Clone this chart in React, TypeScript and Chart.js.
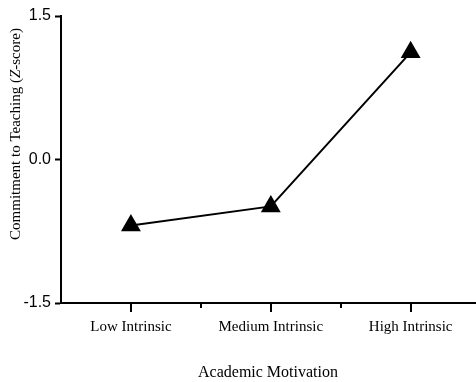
import React, { useEffect, useRef } from 'react';
import { Chart, registerables } from 'chart.js';

Chart.register(...registerables);

const categories = ['Low Intrinsic', 'Medium Intrinsic', 'High Intrinsic'];
const commitment = [-0.69, -0.49, 1.12];
const yMin = -1.5;
const yMax = 1.5;
const yStep = 1.5;
const xMinorTicks = [0.5, 1.5];
const xTitle = 'Academic Motivation';
const yTitleParts = [
  { text: 'Commitment to Teaching (', italic: false },
  { text: 'Z', italic: true },
  { text: '-score)', italic: false },
];

const SERIF = '"Liberation Serif", "Times New Roman", serif';
const SANS = '"Liberation Sans", Arial, sans-serif';

const overlayPlugin = {
  id: 'overlay',
  afterDraw(chart: any) {
    const ctx = chart.ctx;
    const xs = chart.scales.x;
    const bottom = chart.chartArea.bottom;
    ctx.save();
    ctx.strokeStyle = '#000';
    ctx.lineWidth = 2;
    categories.forEach((_, i) => {
      const px = Math.round(xs.getPixelForValue(i));
      ctx.beginPath();
      ctx.moveTo(px, bottom);
      ctx.lineTo(px, bottom + 9);
      ctx.stroke();
    });
    xMinorTicks.forEach((v) => {
      const px = Math.round(xs.getPixelForValue(v));
      ctx.beginPath();
      ctx.moveTo(px, bottom);
      ctx.lineTo(px, bottom + 5);
      ctx.stroke();
    });

    // rotated y title with italic Z
    const normalFont = `15px ${SERIF}`;
    const italicFont = `italic 15px ${SERIF}`;
    let total = 0;
    const widths = yTitleParts.map((p) => {
      ctx.font = p.italic ? italicFont : normalFont;
      const w = ctx.measureText(p.text).width;
      total += w;
      return w;
    });
    ctx.translate(16, 134);
    ctx.rotate(-Math.PI / 2);
    ctx.fillStyle = '#000';
    ctx.textBaseline = 'middle';
    ctx.textAlign = 'left';
    let x = -total / 2;
    yTitleParts.forEach((p, i) => {
      ctx.font = p.italic ? italicFont : normalFont;
      ctx.fillText(p.text, x, 0);
      x += widths[i];
    });
    ctx.restore();
  },
};

export default function App() {
  const ref = useRef<HTMLCanvasElement | null>(null);
  useEffect(() => {
    if (!ref.current) return;
    const chart = new Chart(ref.current, {
      type: 'line',
      data: {
        datasets: [
          {
            data: commitment.map((v, i) => ({ x: i, y: v })),
            borderColor: '#000',
            backgroundColor: '#000',
            borderWidth: 2,
            pointStyle: 'triangle',
            pointRadius: 10,
            pointBorderWidth: 1.5,
            pointBackgroundColor: '#000',
            pointBorderColor: '#000',
            tension: 0,
            clip: false as any,
          },
        ],
      },
      options: {
        animation: false,
        responsive: false,
        devicePixelRatio: 1,
        layout: { autoPadding: false, padding: { top: 16, right: 1, left: 0, bottom: 0 } },
        plugins: { legend: { display: false }, tooltip: { enabled: false }, title: { display: false } },
        scales: {
          x: {
            type: 'linear',
            min: -0.5,
            max: 2.46,
            afterFit: (s: any) => {
              s.height = 79;
              s.paddingLeft = 0;
              s.paddingRight = 0;
            },
            border: { display: true, color: '#000', width: 2 },
            grid: { display: true, drawOnChartArea: false, tickLength: 8, tickColor: 'rgba(0,0,0,0)' },
            ticks: {
              stepSize: 0.5,
              autoSkip: false,
              maxRotation: 0,
              padding: 7,
              color: '#000',
              font: { family: SERIF, size: 15 },
              callback: (v: any) => {
                const n = Number(v);
                return Number.isInteger(n) && categories[n] !== undefined ? categories[n] : '';
              },
            },
            title: {
              display: true,
              text: xTitle,
              color: '#000',
              font: { family: SERIF, size: 16 },
              padding: { top: 0, bottom: 0 },
            },
          },
          y: {
            type: 'linear',
            min: yMin,
            max: yMax,
            afterFit: (s: any) => {
              s.width = 61;
              s.paddingTop = 0;
              s.paddingBottom = 0;
            },
            border: { display: true, color: '#000', width: 2 },
            grid: { display: true, drawOnChartArea: false, tickLength: 6, tickColor: '#000', tickWidth: 2 },
            ticks: {
              stepSize: yStep,
              padding: 4,
              color: '#000',
              font: { family: SANS, size: 16 },
              callback: (v: any) => Number(v).toFixed(1),
            },
          },
        },
      },
      plugins: [overlayPlugin],
    });
    return () => chart.destroy();
  }, []);
  return (
    <div style={{ position: 'fixed', left: 0, top: 0, width: 476, height: 382, background: '#fff' }}>
      <canvas ref={ref} width={476} height={382} style={{ display: 'block' }} />
    </div>
  );
}
